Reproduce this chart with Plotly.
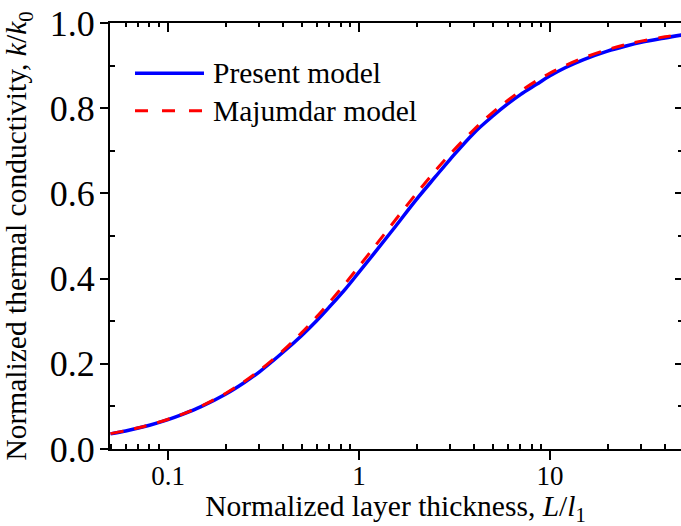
import math
import plotly.graph_objects as go

# ---- data ----
thickness = [0.05, 0.06, 0.07, 0.08, 0.1, 0.12, 0.15, 0.2, 0.25, 0.3, 0.4, 0.5, 0.6, 0.7,
             0.85, 1.0, 1.2, 1.5, 2.0, 2.5, 3.0, 4.0, 5.0, 6.0, 7.0, 8.5, 10.0, 12.0,
             15.0, 20.0, 25.0, 30.0, 40.0, 50.0]
present_model = [0.0355, 0.0424, 0.0492, 0.0559, 0.0690, 0.0818, 0.1000, 0.1285, 0.1555,
                 0.1805, 0.2270, 0.2660, 0.3010, 0.3335, 0.3760, 0.4150, 0.4590, 0.5140,
                 0.5860, 0.6380, 0.6800, 0.7420, 0.7810, 0.8100, 0.8320, 0.8560, 0.8760,
                 0.8950, 0.9140, 0.9340, 0.9460, 0.9545, 0.9650, 0.9725]
majumdar_model = [0.0361, 0.0430, 0.0499, 0.0566, 0.0698, 0.0826, 0.1011, 0.1304, 0.1579,
                  0.1837, 0.2308, 0.2727, 0.3103, 0.3443, 0.3893, 0.4286, 0.4737, 0.5294,
                  0.6000, 0.6522, 0.6923, 0.7500, 0.7895, 0.8182, 0.8400, 0.8644, 0.8824,
                  0.9000, 0.9184, 0.9375, 0.9494, 0.9574, 0.9677, 0.9740]
series_names = ["Present model", "Majumdar model"]

x_major = [0.1, 1, 10]
x_major_text = ["0.1", "1", "10"]
x_minor = [0.05, 0.06, 0.07, 0.08, 0.09, 0.2, 0.3, 0.4, 0.5, 0.6, 0.7, 0.8, 0.9,
           2, 3, 4, 5, 6, 7, 8, 9, 20, 30, 40, 50]
y_major = [0.0, 0.2, 0.4, 0.6, 0.8, 1.0]
y_major_text = ["0.0", "0.2", "0.4", "0.6", "0.8", "1.0"]
y_minor = [0.1, 0.3, 0.5, 0.7, 0.9]

x_title = "Normalized layer thickness, <i>L</i>/<i>l</i><sub>1</sub>"
y_title = "Normalized thermal conductivity, <i>k</i>/<i>k</i><sub>0</sub>"

FONT = "Liberation Serif"
BLUE = "#0000ff"
RED = "#ff0000"

x_range = [math.log10(0.0497), math.log10(48.5)]
y_range = [0, 1]

fig = go.Figure()
fig.add_trace(go.Scatter(x=thickness, y=present_model, mode="lines", name=series_names[0],
                         line=dict(color=BLUE, width=3.5, shape="spline"), showlegend=False))
fig.add_trace(go.Scatter(x=thickness, y=majumdar_model, mode="lines", name=series_names[1],
                         line=dict(color=RED, width=3, dash="13px,11px", shape="spline"),
                         showlegend=False))
# carrier trace for the mirrored top/right axes
fig.add_trace(go.Scatter(x=[thickness[0], thickness[-1]], y=[0, 1], xaxis="x2", yaxis="y2",
                         mode="lines", line=dict(width=0), opacity=0, hoverinfo="skip",
                         showlegend=False))

fig.update_layout(
    width=681, height=526,
    margin=dict(l=110, r=0, t=23, b=77),
    paper_bgcolor="white", plot_bgcolor="white",
    font=dict(family=FONT, color="black"),
    showlegend=False,
    xaxis=dict(
        type="log", range=x_range, showgrid=False, zeroline=False,
        showline=True, linecolor="black", linewidth=2,
        tickmode="array", tickvals=x_major, ticktext=x_major_text,
        ticks="outside", ticklen=9, tickwidth=1.5, tickcolor="black",
        tickfont=dict(family=FONT, size=27, color="black"),
        ticklabelstandoff=-7,
        minor=dict(tickmode="array", tickvals=x_minor, ticks="inside", ticklen=5,
                   tickwidth=1.5, tickcolor="black", showgrid=False),
        title=dict(text=x_title, font=dict(family=FONT, size=29.5, color="black"), standoff=6),
    ),
    yaxis=dict(
        range=y_range, showgrid=False, zeroline=False,
        showline=True, linecolor="black", linewidth=2,
        tickmode="array", tickvals=y_major, ticktext=y_major_text,
        ticks="outside", ticklen=8, tickwidth=1.5, tickcolor="black",
        tickfont=dict(family=FONT, size=36, color="black"),
        ticklabelstandoff=-2,
        minor=dict(tickmode="array", tickvals=y_minor, ticks="inside", ticklen=5,
                   tickwidth=1.5, tickcolor="black", showgrid=False),
        title=dict(text=y_title, font=dict(family=FONT, size=29.5, color="black"), standoff=14),
    ),
    xaxis2=dict(
        type="log", range=x_range, overlaying="x", side="top", anchor="y",
        showgrid=False, zeroline=False, showline=True, linecolor="black", linewidth=2,
        tickmode="array", tickvals=x_major, ticks="inside", ticklen=9, tickwidth=1.5,
        tickcolor="black", showticklabels=False,
        minor=dict(tickmode="array", tickvals=x_minor, ticks="inside", ticklen=4,
                   tickwidth=1.5, tickcolor="black", showgrid=False),
    ),
    yaxis2=dict(
        range=y_range, overlaying="y", side="right", anchor="x",
        showgrid=False, zeroline=False, showline=False,
        tickmode="array", tickvals=y_major, ticks="inside", ticklen=6, tickwidth=1.5,
        tickcolor="black", showticklabels=False,
        minor=dict(tickmode="array", tickvals=y_minor, ticks="inside", ticklen=3,
                   tickwidth=1.5, tickcolor="black", showgrid=False),
    ),
)

# legend drawn inside the plot area (long line samples as in the reference)
legend_rows = [(0.882, BLUE, "solid", 3.5, series_names[0]),
               (0.794, RED, "dash", 3, series_names[1])]
for ypos, color, dash, width, label in legend_rows:
    fig.add_shape(type="line", xref="paper", yref="paper", x0=0.0438, x1=0.1646,
                  y0=ypos, y1=ypos, line=dict(color=color, width=width,
                                              dash="13px,14px" if dash == "dash" else "solid"))
    fig.add_annotation(xref="paper", yref="paper", x=0.1769, y=ypos, text=label,
                       showarrow=False, xanchor="left", yanchor="middle",
                       font=dict(family=FONT, size=29.5, color="black"))

fig.write_html("out.html")
